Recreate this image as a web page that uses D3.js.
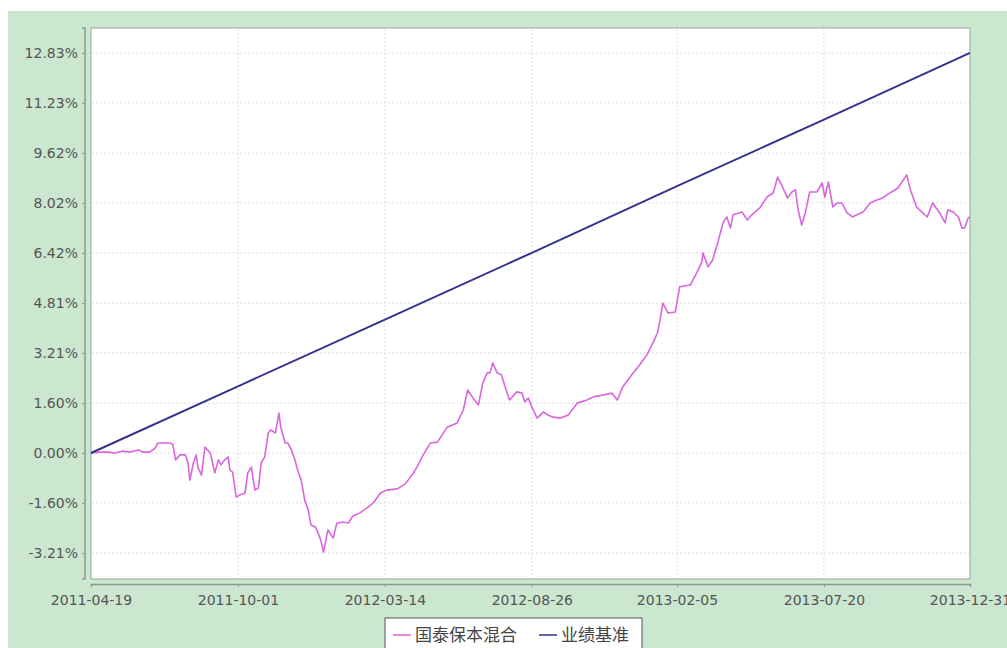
<!DOCTYPE html>
<html lang="zh">
<head>
  <meta charset="UTF-8">
  <title>国泰保本混合 vs 业绩基准</title>
  <script src="https://d3js.org/d3.v7.min.js"></script>
  <style>
    body { margin: 0; background: #fff; }
    text { font-family: "DejaVu Sans", sans-serif; }
  </style>
</head>
<body>
  <div id="chart"></div>

  <script>
    // x axis tick labels (dates) and y axis tick labels (%)
    const xTickLabels = ["2011-04-19", "2011-10-01", "2012-03-14", "2012-08-26", "2013-02-05", "2013-07-20", "2013-12-31"];
    const yTickValues = [-3.21, -1.60, 0.00, 1.60, 3.21, 4.81, 6.42, 8.02, 9.62, 11.23, 12.83];

    // series names
    const seriesNames = ["国泰保本混合", "业绩基准"];

    // 业绩基准: straight line read at the tick dates
    const benchDates = xTickLabels;
    const benchValues = [0.00, 2.14, 4.28, 6.42, 8.56, 10.69, 12.83];

    // 国泰保本混合: calendar days since 2011-04-19 and cumulative return (%)
    const fundDays = [0, 10, 19, 27, 35, 44, 53, 58, 66, 72, 75, 89, 92, 95, 100, 106, 109, 111, 115, 118,
      120, 124, 128, 134, 139, 143, 146, 150, 154, 156, 159, 163, 167, 173, 176, 180, 184, 188, 191, 195,
      199, 202, 207, 211, 213, 218, 221, 225, 229, 232, 236, 240, 244, 247, 252, 255, 258, 261, 266, 272,
      276, 283, 289, 294, 302, 310, 317, 325, 332, 344, 353, 362, 366, 373, 381, 389, 400, 411, 418, 423,
      429, 435, 440, 445, 448, 451, 456, 461, 465, 470, 478, 484, 487, 491, 495, 501, 508, 513, 519, 527,
      536, 546, 557, 564, 575, 585, 591, 597, 607, 616, 624, 631, 636, 639, 642, 648, 656, 661, 673, 680,
      686, 687, 693, 698, 704, 710, 714, 718, 721, 731, 737, 742, 751, 759, 766, 771, 777, 782, 787, 791,
      794, 798, 802, 807, 815, 821, 824, 828, 833, 838, 843, 849, 855, 860, 867, 875, 883, 889, 897, 906,
      916, 920, 927, 934, 939, 945, 953, 959, 962, 968, 974, 978, 981, 985, 987];
    const fundValues = [0.00, 0.03, 0.03, 0.00, 0.06, 0.03, 0.10, 0.03, 0.03, 0.16, 0.32, 0.32, 0.26, -0.22, -0.06, -0.06, -0.32, -0.87, -0.32, -0.06,
      -0.45, -0.71, 0.19, 0.00, -0.64, -0.22, -0.38, -0.22, -0.13, -0.55, -0.61, -1.41, -1.35, -1.28, -0.64, -0.45, -1.19, -1.12, -0.32, -0.13,
      0.64, 0.74, 0.64, 1.28, 0.83, 0.32, 0.32, 0.10, -0.22, -0.55, -0.87, -1.51, -1.83, -2.31, -2.37, -2.57, -2.79, -3.18, -2.47, -2.73,
      -2.25, -2.21, -2.25, -2.02, -1.92, -1.76, -1.60, -1.28, -1.19, -1.15, -0.99, -0.64, -0.45, -0.06, 0.32, 0.35, 0.83, 0.96, 1.38, 2.02,
      1.76, 1.54, 2.25, 2.57, 2.57, 2.89, 2.57, 2.50, 2.12, 1.70, 1.96, 1.92, 1.64, 1.76, 1.48, 1.12, 1.32, 1.22, 1.15, 1.12,
      1.22, 1.60, 1.70, 1.80, 1.86, 1.92, 1.70, 2.12, 2.50, 2.82, 3.14, 3.53, 3.85, 4.27, 4.81, 4.49, 4.52, 5.33, 5.39, 5.77,
      6.13, 6.42, 5.97, 6.19, 6.77, 7.41, 7.57, 7.22, 7.64, 7.73, 7.47, 7.64, 7.86, 8.21, 8.34, 8.85, 8.50, 8.18, 8.37, 8.44,
      7.80, 7.31, 7.70, 8.37, 8.37, 8.66, 8.21, 8.69, 7.89, 8.02, 8.02, 7.70, 7.57, 7.64, 7.73, 8.02, 8.12, 8.18, 8.34, 8.50,
      8.92, 8.44, 7.89, 7.70, 7.57, 8.02, 7.70, 7.38, 7.80, 7.73, 7.57, 7.22, 7.22, 7.54, 7.57];

    const colors = ["#d966dc", "#33338f"];

    const W = 1007, H = 648;
    const plot = { left: 91, right: 970, top: 28, bottom: 579 };

    const parseDate = d3.timeParse("%Y-%m-%d");
    const startDate = parseDate(xTickLabels[0]);

    const svg = d3.select("#chart").append("svg")
      .attr("width", W)
      .attr("height", H);

    // green panel
    svg.append("rect")
      .attr("x", 8).attr("y", 11)
      .attr("width", W - 8).attr("height", H - 11)
      .attr("fill", "#cbe7d0");

    // plot area
    svg.append("rect")
      .attr("x", plot.left).attr("y", plot.top)
      .attr("width", plot.right - plot.left).attr("height", plot.bottom - plot.top)
      .attr("fill", "#fff")
      .attr("stroke", "#9aa59c");

    const xScale = d3.scaleTime()
      .domain([startDate, parseDate(xTickLabels[xTickLabels.length - 1])])
      .range([plot.left, plot.right]);

    const yScale = d3.scaleLinear()
      .domain([-4.04, 13.63])
      .range([plot.bottom, plot.top]);

    const xTicks = xTickLabels.map(parseDate);

    // grid lines
    svg.append("g")
      .selectAll("line.hgrid")
      .data(yTickValues)
      .enter().append("line")
      .attr("x1", plot.left + 1).attr("x2", plot.right - 1)
      .attr("y1", (d) => yScale(d)).attr("y2", (d) => yScale(d))
      .attr("stroke", "#dcdcdc")
      .attr("stroke-dasharray", "2,2");

    svg.append("g")
      .selectAll("line.vgrid")
      .data(xTicks.slice(1, -1))
      .enter().append("line")
      .attr("x1", (d) => xScale(d)).attr("x2", (d) => xScale(d))
      .attr("y1", plot.top + 1).attr("y2", plot.bottom - 1)
      .attr("stroke", "#dcdcdc")
      .attr("stroke-dasharray", "2,2");

    // axes (offset from the plot like the original)
    const yAxis = svg.append("g")
      .attr("transform", `translate(${plot.left - 6},0)`)
      .call(d3.axisLeft(yScale)
        .tickValues(yTickValues)
        .tickSize(3)
        .tickPadding(4)
        .tickFormat((d) => d.toFixed(2) + "%"));

    const xAxis = svg.append("g")
      .attr("transform", `translate(0,${plot.bottom + 5})`)
      .call(d3.axisBottom(xScale)
        .tickValues(xTicks)
        .tickSize(3)
        .tickPadding(8)
        .tickFormat(d3.timeFormat("%Y-%m-%d")));

    [yAxis, xAxis].forEach((ax) => {
      ax.select(".domain").attr("stroke", "#8d9a90").attr("stroke-width", 1.5);
      ax.selectAll(".tick line").attr("stroke", "#8d9a90");
      ax.selectAll(".tick text")
        .attr("fill", "#555")
        .style("font-family", "DejaVu Sans, sans-serif")
        .style("font-size", "14px");
    });
    yAxis.select(".domain").attr("d", `M-3,${plot.top}H0V${plot.bottom}H-3`);

    // lines
    const line = d3.line()
      .x((d) => xScale(d[0]))
      .y((d) => yScale(d[1]));

    const fundData = fundDays.map((d, i) => [d3.timeDay.offset(startDate, d), fundValues[i]]);
    const benchData = benchDates.map((d, i) => [parseDate(d), benchValues[i]]);

    svg.append("path")
      .datum(fundData)
      .attr("fill", "none")
      .attr("stroke", colors[0])
      .attr("stroke-width", 1.6)
      .attr("stroke-linejoin", "round")
      .attr("d", line);

    svg.append("path")
      .datum(benchData)
      .attr("fill", "none")
      .attr("stroke", colors[1])
      .attr("stroke-width", 2)
      .attr("d", line);

    // legend
    const legend = svg.append("g").attr("transform", "translate(385,618)");
    legend.append("rect")
      .attr("width", 257).attr("height", 36)
      .attr("fill", "#fff")
      .attr("stroke", "#555");

    const items = [
      { name: seriesNames[0], x: 6, w: 117 },
      { name: seriesNames[1], x: 152, w: 73 }
    ];
    items.forEach((it, i) => {
      legend.append("line")
        .attr("x1", it.x + 2).attr("x2", it.x + 20)
        .attr("y1", 17).attr("y2", 17)
        .attr("stroke", colors[i])
        .attr("stroke-width", 1.5);
      legend.append("text")
        .attr("x", it.x + 24).attr("y", 23)
        .attr("fill", "#444")
        .style("font-family", "Noto Sans CJK SC, sans-serif")
        .style("font-size", "17px")
        .text(it.name);
    });
  </script>
</body>
</html>
